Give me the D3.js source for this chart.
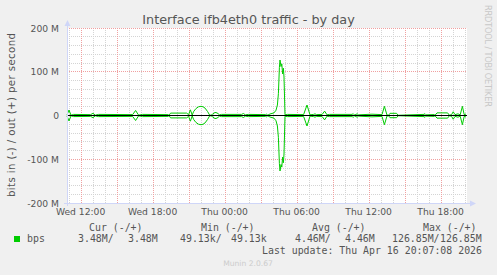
<!DOCTYPE html>
<html>
<head>
<meta charset="utf-8">
<script src="https://cdn.jsdelivr.net/npm/d3@7"></script>
<style>
  body { margin: 0; background: #f0f0f0; }
  svg { display: block; font-family: "DejaVu Sans", sans-serif; }
  .mono { font-family: "DejaVu Sans Mono", monospace; }
</style>
</head>
<body>
<svg id="chart" width="497" height="275"></svg>
<script>
// samples (Wed = 04-15, Thu = 04-16), values in Mbit/s
const sampleTimes = [
  "04-15 10:52", "04-15 11:02", "04-15 11:12", "04-15 11:25", "04-15 12:50", "04-15 13:02", "04-15 13:14", "04-15 13:30",
  "04-15 16:20", "04-15 16:35", "04-15 16:50", "04-15 17:10", "04-15 19:17", "04-15 19:22", "04-15 19:30", "04-15 20:50",
  "04-15 21:00", "04-15 21:09", "04-15 21:18", "04-15 21:25", "04-15 21:37", "04-15 21:50", "04-15 22:02", "04-15 22:12",
  "04-15 22:22", "04-15 22:35", "04-15 22:45", "04-15 22:52", "04-15 23:00", "04-15 23:12", "04-15 23:22", "04-15 23:35",
  "04-15 23:45", "04-16 01:25", "04-16 01:34", "04-16 01:44", "04-16 02:00", "04-16 03:25", "04-16 03:30", "04-16 03:36",
  "04-16 03:47", "04-16 04:07", "04-16 04:17", "04-16 04:24", "04-16 04:29", "04-16 04:34", "04-16 04:37", "04-16 04:42",
  "04-16 04:46", "04-16 04:50", "04-16 04:54", "04-16 04:57", "04-16 05:02", "04-16 05:15", "04-16 06:35", "04-16 06:52",
  "04-16 07:07", "04-16 07:25", "04-16 07:32", "04-16 07:40", "04-16 08:08", "04-16 08:20", "04-16 08:32", "04-16 08:45",
  "04-16 10:38", "04-16 10:43", "04-16 10:50", "04-16 11:03", "04-16 11:10", "04-16 12:17", "04-16 13:07", "04-16 13:19",
  "04-16 13:32", "04-16 13:40", "04-16 13:47", "04-16 14:20", "04-16 14:27", "04-16 16:37", "04-16 16:42", "04-16 16:48",
  "04-16 17:27", "04-16 17:32", "04-16 17:42", "04-16 18:35", "04-16 18:44", "04-16 18:55", "04-16 19:03", "04-16 19:12",
  "04-16 19:27", "04-16 19:38", "04-16 19:49", "04-16 19:58", "04-16 20:07"
];
const outMbit = [
  1.0, 12.5, 0.5, 2.5, 2.0, 5.0, 0.8, 2.5,
  2.0, 11.5, 0.8, 2.5, 2.0, 0.3, 5.5, 5.5,
  2.0, 13.0, 1.0, 9.0, 16.0, 20.0, 21.0, 20.0,
  17.0, 9.0, 1.0, 0.5, 3.0, 7.0, 6.0, 1.5,
  2.5, 2.5, 4.5, 1.5, 2.5, 2.0, 3.0, 0.8,
  3.5, 6.0, 12.0, 24.0, 50.0, 110.0, 126.85, 112.0,
  118.0, 95.0, 108.0, 88.0, 1.5, 2.5, 2.0, 24.0,
  1.5, 2.5, 3.8, 2.0, 2.5, 10.0, 1.5, 2.5,
  2.5, 4.2, 1.0, 3.8, 1.5, 3.0, 2.0, 21.0,
  1.0, 0.5, 5.0, 5.0, 0.5, 2.5, 4.2, 1.5,
  2.0, 0.5, 6.0, 6.0, 0.5, 2.0, 8.5, 2.0,
  3.8, 1.5, 21.0, 2.0, 3.48
];
// ifb device: inbound reads the same as outbound, drawn below zero
const inMbit = outMbit;

const yTicks = [-200, -100, 0, 100, 200];
const xLabelHours = ["04-15 12:00", "04-15 18:00", "04-16 00:00", "04-16 06:00", "04-16 12:00", "04-16 18:00"];
const legendHeads = ["Cur (-/+)", "Min (-/+)", "Avg (-/+)", "Max (-/+)"];
const legendVals = [["3.48M/", "3.48M"], ["49.13k/", "49.13k"], ["4.46M/", "4.46M"], ["126.85M/", "126.85M"]];

const parse = d3.timeParse("%m-%d %H:%M");
const withYear = s => { const d = parse(s); d.setFullYear(2026); return d; };

const svg = d3.select("#chart");
const pL = 67, pR = 467, pT = 28, pB = 203;

const x = d3.scaleTime()
  .domain([withYear("04-15 10:52"), withYear("04-16 20:12")])
  .range([pL, pR]);
const y = d3.scaleLinear().domain([-200, 200]).range([pB, pT]);

svg.append("rect").attr("width", 497).attr("height", 275).attr("fill", "#f0f0f0");
svg.append("rect").attr("x", pL).attr("y", pT).attr("width", pR - pL).attr("height", pB - pT).attr("fill", "#fff");

const px = v => Math.round(v) + 0.5;

// minor grid
const grid = svg.append("g").attr("stroke-width", 1).attr("stroke-dasharray", "1,1");
grid.selectAll(".vmin").data(x.ticks(d3.timeHour.every(1))).enter().append("line")
  .attr("x1", d => px(x(d))).attr("x2", d => px(x(d))).attr("y1", pT).attr("y2", pB)
  .attr("stroke", "#d4d4d4");
grid.selectAll(".hmin").data(d3.range(-200, 201, 20)).enter().append("line")
  .attr("x1", pL).attr("x2", pR).attr("y1", d => px(y(d) - 0.5)).attr("y2", d => px(y(d) - 0.5))
  .attr("stroke", "#d4d4d4");
// major grid
grid.selectAll(".vmaj").data(x.ticks(d3.timeHour.every(3))).enter().append("line")
  .attr("x1", d => px(x(d))).attr("x2", d => px(x(d))).attr("y1", pT).attr("y2", pB)
  .attr("stroke", "#f0a0a0");
grid.selectAll(".hmaj").data(yTicks).enter().append("line")
  .attr("x1", pL).attr("x2", pR).attr("y1", d => px(y(d) - 0.5)).attr("y2", d => px(y(d) - 0.5))
  .attr("stroke", "#f0a0a0");

// y labels
svg.append("g").selectAll("text").data(yTicks).enter().append("text")
  .attr("x", 59).attr("y", d => y(d) + 3.5)
  .attr("text-anchor", "end").attr("font-size", 9.2).attr("fill", "#555")
  .text(d => d === 0 ? "0" : d + " M");

// x labels
const fmt = d3.timeFormat("%a %H:%M");
svg.append("g").selectAll("text").data(xLabelHours.map(withYear)).enter().append("text")
  .attr("x", d => x(d)).attr("y", 215)
  .attr("text-anchor", "middle").attr("font-size", 9.2).attr("fill", "#555")
  .text(fmt);

// data lines
const pts = sampleTimes.map((t, i) => ({ t: withYear(t), o: outMbit[i], n: inMbit[i] }));
svg.append("path").datum(pts)
  .attr("d", d3.line().x(d => x(d.t)).y(d => y(d.o)))
  .attr("fill", "none").attr("stroke", "#00cc00").attr("stroke-width", 1);
svg.append("path").datum(pts)
  .attr("d", d3.line().x(d => x(d.t)).y(d => y(-d.n)))
  .attr("fill", "none").attr("stroke", "#00cc00").attr("stroke-width", 1);

// zero rule
svg.append("line").attr("x1", pL).attr("x2", pR).attr("y1", px(y(0) - 0.5)).attr("y2", px(y(0) - 0.5))
  .attr("stroke", "#000").attr("stroke-width", 1);

// axes with arrows
svg.append("line").attr("x1", pL + 0.5).attr("x2", pL + 0.5).attr("y1", pB + 3).attr("y2", 24)
  .attr("stroke", "#cfd6f8");
svg.append("path").attr("d", `M${pL - 2.5},26 L${pL + 3.5},26 L${pL + 0.5},20 Z`).attr("fill", "#cfd6f8");
svg.append("line").attr("x1", pL - 3).attr("x2", 471).attr("y1", pB + 0.5).attr("y2", pB + 0.5)
  .attr("stroke", "#cfd6f8");
svg.append("path").attr("d", `M470,${pB - 2.5} L470,${pB + 3.5} L476,${pB + 0.5} Z`).attr("fill", "#cfd6f8");

// title and side texts
svg.append("text").attr("x", 248.5).attr("y", 24).attr("text-anchor", "middle")
  .attr("font-size", 12.8).attr("fill", "#555").text("Interface ifb4eth0 traffic - by day");
svg.append("text").attr("transform", "translate(15,115) rotate(-90)").attr("text-anchor", "middle")
  .attr("font-size", 10.2).attr("textLength", 164).attr("lengthAdjust", "spacing")
  .attr("fill", "#555").text("bits in (-) / out (+) per second");
svg.append("text").attr("transform", "translate(485,5) rotate(90)").attr("text-anchor", "start")
  .attr("font-size", 8.2).attr("textLength", 102).attr("fill", "#c8c8c8").text("RRDTOOL / TOBI OETIKER");

// legend
const lg = svg.append("g").attr("class", "mono").attr("font-size", 9.9).attr("fill", "#555");
const headX = [89, 201, 312, 423];
lg.selectAll(".h").data(legendHeads).enter().append("text")
  .attr("x", (d, i) => headX[i]).attr("y", 231).text(d => d);
svg.append("rect").attr("x", 14).attr("y", 236).attr("width", 6).attr("height", 6).attr("fill", "#00cc00");
lg.append("text").attr("x", 27).attr("y", 242).text("bps");
const valX = [[78, 128], [180, 231], [295, 345], [392, 440]];
legendVals.forEach((pair, i) => {
  pair.forEach((v, j) => lg.append("text").attr("x", valX[i][j]).attr("y", 242).text(v));
});
lg.append("text").attr("x", 262).attr("y", 254).text("Last update: Thu Apr 16 20:07:08 2026");
svg.append("text").attr("x", 248).attr("y", 266).attr("text-anchor", "middle")
  .attr("font-size", 7.6).attr("fill", "#ccc").text("Munin 2.0.67");
</script>
</body>
</html>
